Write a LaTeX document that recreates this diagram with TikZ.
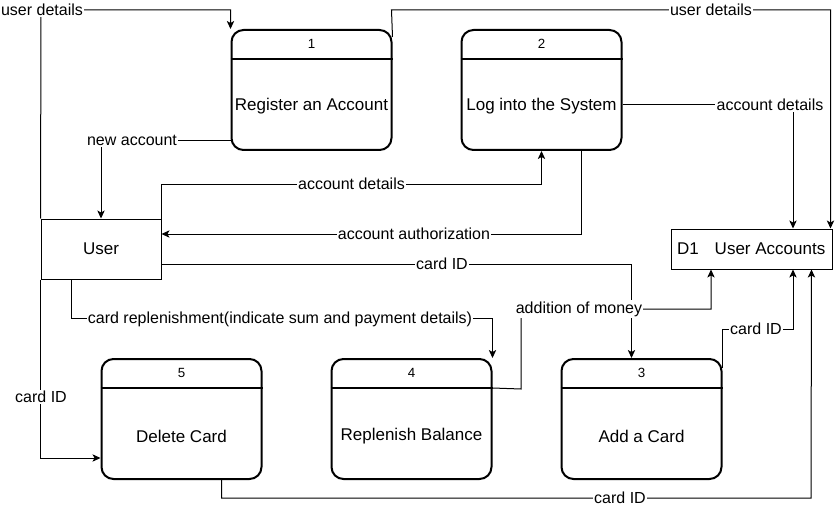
\documentclass[tikz,border=0pt]{standalone}
\usepackage{fontspec}
\setmainfont{Liberation Sans}
\usetikzlibrary{arrows.meta,calc}
\begin{document}
\begin{tikzpicture}[x=0.75pt,y=-0.75pt,
  proc/.style={draw,line width=1.5pt,rounded corners=9pt,minimum width=120pt,minimum height=90pt,inner sep=0pt},
  ent/.style={draw,line width=0.75pt,minimum width=90pt,minimum height=45pt,inner sep=0pt},
  store/.style={draw,line width=0.75pt,minimum width=120.75pt,minimum height=30pt,inner sep=0pt},
  divider/.style={line width=1.5pt},
  flow/.style={line width=0.75pt,-{Stealth[length=6pt,width=5.5pt,inset=1.5pt]}},
  lbl/.style={fill=white,inner sep=1pt,font=\fontsize{12}{14}\selectfont},
  ptxt/.style={font=\fontsize{12.75}{14}\selectfont,inner sep=0pt},
  pnum/.style={font=\fontsize{10}{12}\selectfont,inner sep=0pt}]
\useasboundingbox (0,0) rectangle (840,510);

% processes
\node[proc] (p1) at (311.5,90) {};
\node[proc] (p2) at (541.5,90) {};
\node[proc] (p5) at (181.5,419) {};
\node[proc] (p4) at (411.5,419) {};
\node[proc] (p3) at (641.5,419) {};
\foreach \p in {p1,p2,p3,p4,p5}{
  \draw[divider] ($(\p.north west)+(0,30)$) -- ($(\p.north east)+(0,30)$);
}
\node[pnum] (n1) at ($(p1.north)+(0,15)$) {1};
\node[pnum] (n2) at ($(p2.north)+(0,15)$) {2};
\node[pnum] (n3) at ($(p3.north)+(0,15)$) {3};
\node[pnum] (n4) at ($(p4.north)+(0,15)$) {4};
\node[pnum] (n5) at ($(p5.north)+(0,15)$) {5};
\node[ptxt] (t1) at ($(p1.center)+(0,16)$) {Register an Account};
\node[ptxt] (t2) at ($(p2.center)+(0,16)$) {Log into the System};
\node[ptxt] (t3) at ($(p3.center)+(0,17)$) {Add a Card};
\node[ptxt] (t4) at ($(p4.center)+(0,17)$) {Replenish Balance};
\node[ptxt] (t5) at ($(p5.center)+(0,17)$) {Delete Card};

% external entity and store
\node[ent] (user) at (101,249) {};
\node[ptxt] (usertxt) at (user.center) {User};
\node[store] (d1) at (751.5,249) {};
\node[ptxt] (d1id) at (688,249) {D1};
\node[ptxt] (d1txt) at (770,249) {User Accounts};

% flows
\draw[flow] (user.north west) -- (41,10) -| (p1.north west);
\node[lbl] (l1) at (42,10) {user details};

\draw[flow] (user.south west) |- ($(p5.west)+(0,39)$);
\node[lbl] (l2) at (41,397) {card ID};

\draw[flow] ($(p1.south west)+(0,-10)$) -| (user.north);
\node[lbl] (l3) at (132,140) {new account};

\draw[flow] (user.north east) |- ($(p2.south)+(0,34)$) -- (p2.south);
\node[lbl] (l4) at (351.5,184) {account details};

\draw[flow] ($(p2.south)+(40,0)$) |- ($(user.east)+(0,-15)$);
\node[lbl] (l5) at (414,234) {account authorization};

\draw[flow] ($(p1.north east)+(0,8)$) -- (391.5,10) -| ($(d1.north east)+(-2,0)$);
\node[lbl] (l6) at (711,10) {user details};

\draw[flow] ($(p2.east)+(0,15)$) -| ($(d1.north)+(41.5,0)$);
\node[lbl] (l7) at (770,105) {account details};

\draw[flow] ($(user.east)+(0,15)$) -| ($(p3.north)+(-10,0)$);
\node[lbl] (l8) at (442,264) {card ID};

\draw[flow] ($(user.south)+(-30,0)$) |- ($(p4.north east)+(0,-40)$) -- (p4.north east);
\node[lbl] (l9) at (280,319) {card replenishment(indicate sum and payment details)};

\draw[flow] ($(p4.north east)+(0,30)$) -- (521,389) |- (711,309) -- ($(d1.south)+(-40.5,0)$);
\node[lbl] (l10) at (579,309) {addition of money};

\draw[flow] ($(p3.north east)+(0,10)$) |- (793,329) -- ($(d1.south)+(41.5,0)$);
\node[lbl] (l11) at (756,329) {card ID};

\draw[flow] ($(p5.south)+(40,0)$) |- (811,498) -- ($(d1.south)+(60,0)$);
\node[lbl] (l12) at (620,498) {card ID};
\end{tikzpicture}
\end{document}
